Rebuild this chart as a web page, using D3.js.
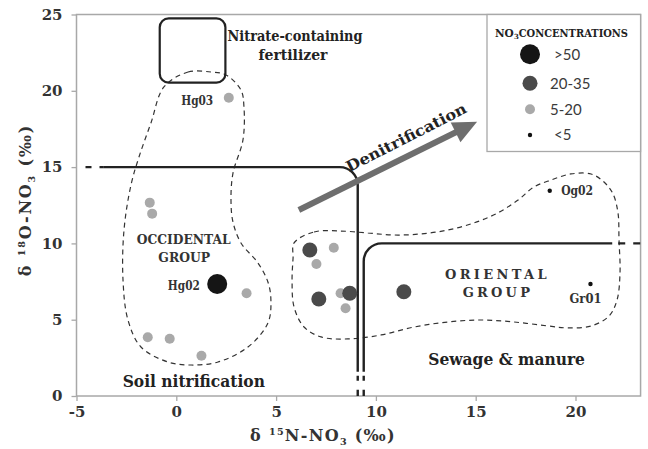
<!DOCTYPE html>
<html><head><meta charset="utf-8">
<script src="https://cdn.jsdelivr.net/npm/d3@7"></script>
<style>body{margin:0;background:#fff}</style>
</head><body>
<svg id="c" width="648" height="449"></svg>
<script>
// ---------- data ----------
const xTicks = [-5, 0, 5, 10, 15, 20];
const yTicks = [0, 5, 10, 15, 20, 25];
const classes = [">50", "20-35", "5-20", "<5"];
const sampleX = [-1.33, -1.21, 3.52, -1.43, -0.33, 1.26, 2.63, 2.05,
                 7.89, 7.02, 8.23, 8.48, 6.69, 7.14, 8.69, 11.40, 18.71, 20.75];
const sampleY = [12.67, 11.95, 6.73, 3.85, 3.75, 2.64, 19.55, 7.34,
                 9.72, 8.65, 6.73, 5.75, 9.57, 6.36, 6.73, 6.83, 13.45, 7.34];
const sampleClass = ["5-20","5-20","5-20","5-20","5-20","5-20","5-20",">50",
                     "5-20","5-20","5-20","5-20","20-35","20-35","20-35","20-35","<5","<5"];
const sampleName = ["","","","","","","Hg03","Hg02","","","","","","","","","Og02","Gr01"];

const occidentalX = [-0.62,0.59,1.74,2.49,3.24,3.39,3.34,2.84,2.74,2.84,3.24,4.09,4.59,4.74,4.59,3.59,2.09,0.74,-0.42,-1.77,-2.42,-2.67,-2.62,-2.27,-1.87,-1.27];
const occidentalY = [20.25,21.23,21.23,21.04,20.05,18.94,16.78,14.61,12.84,11.40,10.03,8.72,7.47,6.29,4.78,3.21,2.23,2.03,2.23,3.21,4.98,7.60,10.88,13.83,15.66,17.89];
const orientalX = [5.90,6.90,8.25,9.60,10.91,12.26,13.61,14.91,16.11,17.12,17.92,18.77,19.77,20.78,21.43,21.88,22.13,22.18,22.23,22.08,21.68,20.78,19.63,18.62,16.92,15.27,13.61,11.91,10.26,8.60,7.25,6.40,5.90,5.80,5.85];
const orientalY = [10.03,10.75,10.81,10.68,10.55,10.62,10.88,11.34,12.00,12.84,13.70,14.15,14.55,14.55,14.02,13.24,11.99,10.22,8.06,6.29,5.24,4.59,4.46,4.59,4.85,4.98,4.85,4.52,4.00,3.74,3.87,4.52,5.83,7.60,9.04];

const fertilizerX = [-0.83, 2.46];
const fertilizerY = [20.53, 24.75];
const boundaryLeftX = [-3.63, 9.09, 9.09];
const boundaryLeftY = [15, 15, 1.59];
const boundaryRightX = [9.39, 9.39, 21.84];
const boundaryRightY = [1.59, 10, 10];
const xExtent = 23.26;
const arrowX = [6.14, 15.07];
const arrowY = [12.19, 17.97];

// ---------- styles ----------
const classFill = {">50":"#151515","20-35":"#4a4a4a","5-20":"#a9a9a9","<5":"#111"};
const classR = {">50":10,"20-35":7.5,"5-20":5,"<5":2.2};
const serif = "'DejaVu Serif', serif";
const sans = "Lato, 'Open Sans', sans-serif";

const svg = d3.select("#c");
const x = d3.scaleLinear().domain([-5, 20]).range([76.5, 575.5]);
const y = d3.scaleLinear().domain([0, 25]).range([396, 14.5]);

// frame
svg.append("rect").attr("x", x(-5)).attr("y", y(25))
  .attr("width", x(xExtent) - x(-5)).attr("height", y(0) - y(25))
  .attr("fill", "none").attr("stroke", "#a8a8a8").attr("stroke-width", 1.5);

// axes
const fmt = d => String(d);
const ya = svg.append("g").attr("transform", `translate(${x(-5)},0)`)
  .call(d3.axisLeft(y).tickValues(yTicks).tickFormat(fmt).tickSize(5).tickPadding(9));
const xa = svg.append("g").attr("transform", `translate(0,${y(0)})`)
  .call(d3.axisBottom(x).tickValues(xTicks).tickFormat(fmt).tickSize(5).tickPadding(5));
[ya, xa].forEach(g => {
  g.select(".domain").remove();
  g.selectAll(".tick line").attr("stroke", "#a8a8a8").attr("stroke-width", 1.3);
  g.selectAll(".tick text").attr("font-family", serif).attr("font-weight", "bold")
    .attr("font-size", 15).attr("fill", "#333");
});

// axis titles
function rich(g, parts, size) {
  const t = g.append("text").attr("font-family", serif).attr("font-weight", "bold")
    .attr("font-size", size).attr("fill", "#333").attr("text-anchor", "middle");
  parts.forEach(p => {
    const ts = t.append("tspan").text(p.t);
    if (p.sup) ts.attr("font-size", size * 0.6).attr("dy", -size * 0.4);
    if (p.sub) ts.attr("font-size", size * 0.6).attr("dy", size * 0.25);
    if (p.back) ts.attr("dy", p.back);
  });
  return t;
}
const yt = svg.append("g").attr("transform", "translate(31,200) rotate(-90)");
rich(yt, [{t:"δ "},{t:"18",sup:true},{t:"O-NO", back:6},{t:"3",sub:true},{t:" (‰)", back:-4}], 16)
  .attr("letter-spacing", 1.8);
const xt = svg.append("g").attr("transform", "translate(323,441)");
rich(xt, [{t:"δ "},{t:"15",sup:true},{t:"N-NO", back:6},{t:"3",sub:true},{t:" (‰)", back:-4}], 16)
  .attr("letter-spacing", 1.3);

// enclosures
const closed = d3.line().x(d => x(d[0])).y(d => y(d[1])).curve(d3.curveCatmullRomClosed.alpha(0.5));
[[occidentalX, occidentalY], [orientalX, orientalY]].forEach(([xs, ys]) => {
  svg.append("path").attr("d", closed(xs.map((v, i) => [v, ys[i]])))
    .attr("fill", "none").attr("stroke", "#333").attr("stroke-width", 1.2)
    .attr("stroke-dasharray", "5,4");
});

// fertilizer box
svg.append("rect").attr("x", x(fertilizerX[0])).attr("y", y(fertilizerY[1]))
  .attr("width", x(fertilizerX[1]) - x(fertilizerX[0]))
  .attr("height", y(fertilizerY[0]) - y(fertilizerY[1]))
  .attr("rx", 9).attr("fill", "none").attr("stroke", "#222").attr("stroke-width", 2.2);

// boundary lines
const r = 18;
const pL = d3.path();
pL.moveTo(x(boundaryLeftX[0]), y(boundaryLeftY[0]));
pL.arcTo(x(boundaryLeftX[1]), y(boundaryLeftY[1]), x(boundaryLeftX[2]), y(boundaryLeftY[2]), r);
pL.lineTo(x(boundaryLeftX[2]), y(boundaryLeftY[2]));
const pR = d3.path();
pR.moveTo(x(boundaryRightX[0]), y(boundaryRightY[0]));
pR.arcTo(x(boundaryRightX[1]), y(boundaryRightY[1]), x(boundaryRightX[2]), y(boundaryRightY[2]), r);
pR.lineTo(x(boundaryRightX[2]), y(boundaryRightY[2]));
[pL, pR].forEach(p => svg.append("path").attr("d", p.toString()).attr("fill", "none")
  .attr("stroke", "#222").attr("stroke-width", 2.4));
// dashed continuations
const dashSeg = (x1, y1, x2, y2, da) => svg.append("line")
  .attr("x1", x(x1)).attr("y1", y(y1)).attr("x2", x(x2)).attr("y2", y(y2))
  .attr("stroke", "#222").attr("stroke-width", 2.4).attr("stroke-dasharray", da);
dashSeg(-5, boundaryLeftY[0], boundaryLeftX[0], boundaryLeftY[0], "0 9 6 8 6 8");
dashSeg(boundaryRightX[2], boundaryRightY[2], xExtent, boundaryRightY[2], "0 6 7 8 7 8");
dashSeg(boundaryLeftX[2], boundaryLeftY[2], boundaryLeftX[2], 0, "0 4 5 9 7");
dashSeg(boundaryRightX[0], boundaryRightY[0], boundaryRightX[0], 0, "0 4 5 9 7");

// denitrification arrow
{
  const x1 = x(arrowX[0]), y1 = y(arrowY[0]), x2 = x(arrowX[1]), y2 = y(arrowY[1]);
  const ang = Math.atan2(y2 - y1, x2 - x1);
  const hl = 24, hw = 11;
  const bx = x2 - hl * Math.cos(ang), by = y2 - hl * Math.sin(ang);
  svg.append("line").attr("x1", x1).attr("y1", y1).attr("x2", bx + 2 * Math.cos(ang)).attr("y2", by + 2 * Math.sin(ang))
    .attr("stroke", "#6e6e6e").attr("stroke-width", 6);
  const px = -Math.sin(ang), py = Math.cos(ang);
  svg.append("path").attr("d", `M${x2},${y2}L${bx + hw * px},${by + hw * py}L${bx - hw * px},${by - hw * py}Z`)
    .attr("fill", "#6e6e6e");
  svg.append("text").attr("transform", `translate(${x(11.52)},${y(16.94)}) rotate(-27)`)
    .attr("text-anchor", "middle").attr("dy", "0.35em")
    .attr("font-family", serif).attr("font-weight", "bold").attr("font-size", 15).attr("fill", "#222")
    .attr("textLength", 133).attr("lengthAdjust", "spacingAndGlyphs")
    .text("Denitrification");
}

// points
const order = d3.range(sampleX.length);
svg.append("g").selectAll("circle").data(order).join("circle")
  .attr("cx", i => x(sampleX[i])).attr("cy", i => y(sampleY[i]))
  .attr("r", i => classR[sampleClass[i]]).attr("fill", i => classFill[sampleClass[i]]);

// annotation texts
function label(txt, cx, by, size, len, opts = {}) {
  const t = svg.append("text").attr("x", cx).attr("y", by)
    .attr("text-anchor", opts.anchor || "middle")
    .attr("font-family", serif).attr("font-weight", "bold").attr("font-size", size)
    .attr("fill", opts.fill || "#222").text(txt);
  if (len) t.attr("textLength", len).attr("lengthAdjust", opts.adj || "spacingAndGlyphs");
  return t;
}
label("Nitrate-containing", 295, 41, 15, 135);
label("fertilizer", 293, 60, 15, 69);
label("OCCIDENTAL", 183.7, 244.3, 12.5, 94, {fill:"#333"});
label("GROUP", 184.2, 261.7, 12.5, 51.7, {fill:"#333"});
label("ORIENTAL", 495.8, 279.3, 13, 101.7, {fill:"#333", adj:"spacing"});
label("GROUP", 496.3, 296.7, 13, 67.3, {fill:"#333", adj:"spacing"});
label("Sewage & manure", 506.6, 365, 16, 156.7);
label("Soil nitrification", 193.8, 386.7, 16, 142.3);

// sample name labels
const nameIdx = sampleName.map((n, i) => n ? i : -1).filter(i => i >= 0);
nameIdx.forEach(i => {
  const n = sampleName[i], px = x(sampleX[i]), py = y(sampleY[i]);
  let tx, ty, anchor;
  if (n === "Hg03") { tx = px - 15.6; ty = py + 7; anchor = "end"; }
  if (n === "Hg02") { tx = px - 17.4; ty = py + 6; anchor = "end"; }
  if (n === "Og02") { tx = px + 11.4; ty = py + 4.3; anchor = "start"; }
  if (n === "Gr01") { tx = px - 21; ty = py + 19.3; anchor = "start"; }
  label(n, tx, ty, 12.5, 32, {anchor, fill:"#333"});
});

// legend
const lg = svg.append("g");
lg.append("rect").attr("x", 487).attr("y", y(25)).attr("width", x(xExtent) - 487).attr("height", 137)
  .attr("fill", "#fff").attr("stroke", "#a8a8a8").attr("stroke-width", 1.3);
const ltStyle = t => t.attr("font-family", serif).attr("font-weight", "bold").attr("fill", "#222");
const t1 = ltStyle(lg.append("text")).attr("x", 495).attr("y", 36.5).attr("font-size", 10.5).text("NO");
const w1 = t1.node().getComputedTextLength();
ltStyle(lg.append("text")).attr("x", 495 + w1 + 0.3).attr("y", 39).attr("font-size", 7).text("3");
ltStyle(lg.append("text")).attr("x", 495 + w1 + 5).attr("y", 36.5).attr("font-size", 10.5)
  .attr("textLength", 628 - (495 + w1 + 5)).attr("lengthAdjust", "spacingAndGlyphs").text("CONCENTRATIONS");
const legY = [54.3, 83.3, 109.3, 135];
const legTX = [554, 550, 550, 554];
classes.forEach((c, k) => {
  lg.append("circle").attr("cx", 530).attr("cy", legY[k]).attr("r", classR[c]).attr("fill", classFill[c]);
  lg.append("text").attr("x", legTX[k]).attr("y", legY[k]).attr("dy", "0.36em")
    .attr("font-family", sans).attr("font-size", 15).attr("fill", "#3a3a3a").text(c);
});
</script>
</body></html>
